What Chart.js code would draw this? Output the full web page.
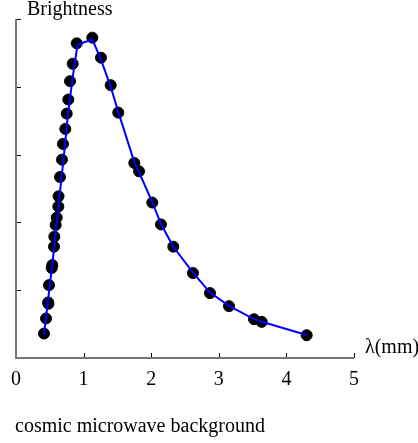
<!DOCTYPE html>
<html>
<head>
<meta charset="utf-8">
<script src="https://cdn.jsdelivr.net/npm/chart.js@4/dist/chart.umd.min.js"></script>
<style>
html,body{margin:0;padding:0;background:#fff;}
#wrap{position:relative;width:418px;height:443px;}
canvas{display:block;}
</style>
</head>
<body>
<div id="wrap"><canvas id="c" width="418" height="443"></canvas></div>
<script>
// Measured data (wavelength in mm, brightness in arbitrary units)
const dataX = [0.414,0.444,0.476,0.480,0.488,0.528,0.537,0.562,0.567,0.587,0.602,0.626,0.629,0.651,0.680,0.695,0.729,0.750,0.774,0.799,0.839,0.898,1.129,1.257,1.401,1.513,1.750,1.820,2.016,2.145,2.327,2.618,2.870,3.151,3.521,3.635,4.300];
const dataY = [0.361,0.583,0.820,0.800,1.075,1.327,1.371,1.642,1.790,1.963,2.071,2.234,2.385,2.669,2.925,3.157,3.379,3.605,3.812,4.083,4.340,4.641,4.725,4.429,4.024,3.620,2.876,2.754,2.293,1.970,1.642,1.253,0.957,0.765,0.572,0.533,0.336];
// Fitted curve
const fitX = [0.414,0.480,0.550,0.630,0.700,0.770,0.840,0.910,1.129,1.257,1.401,1.513,1.750,1.820,2.016,2.145,2.327,2.618,2.870,3.151,3.521,3.635,4.300];
const fitY = [0.350,0.900,1.500,2.260,2.900,3.600,4.150,4.620,4.700,4.400,4.000,3.630,2.890,2.740,2.300,1.975,1.640,1.260,0.965,0.770,0.575,0.535,0.340];
const xTicks = [0,1,2,3,4,5];
const yTicks = [0,1,2,3,4,5];

const pts = dataX.map((x,i)=>({x:x,y:dataY[i]}));
const fit = fitX.map((x,i)=>({x:x,y:fitY[i]}));

const SERIF = "'Liberation Serif','DejaVu Serif',serif";

const decor = {
  id:'decor',
  afterDraw(chart){
    const ctx = chart.ctx;
    const xs = chart.scales.x, ys = chart.scales.y;
    const L = xs.left, B = ys.bottom, T = ys.top, R = xs.right;
    ctx.save();
    // inward ticks
    ctx.strokeStyle = '#000';
    ctx.lineWidth = 1;
    ctx.beginPath();
    xTicks.forEach(v=>{
      if (v===0) return;
      const px = Math.round(xs.getPixelForValue(v))+0.5;
      ctx.moveTo(px,B); ctx.lineTo(px,B-5);
    });
    yTicks.forEach(v=>{
      if (v===0) return;
      const py = Math.round(ys.getPixelForValue(v))+0.5;
      ctx.moveTo(L,py); ctx.lineTo(L+5,py);
    });
    ctx.stroke();
    // axes
    ctx.strokeStyle = '#777';
    ctx.lineWidth = 2;
    ctx.beginPath();
    ctx.moveTo(L,T); ctx.lineTo(L,B); ctx.lineTo(R,B);
    ctx.stroke();
    // labels
    ctx.fillStyle = '#000';
    ctx.font = '20px ' + SERIF;
    ctx.textBaseline = 'alphabetic';
    ctx.textAlign = 'left';
    ctx.fillText('Brightness', L+11, T-4);
    ctx.fillText('λ(mm)', R+11, B-5);
    ctx.fillText('cosmic microwave background', L-1, B+74);
    ctx.restore();
  }
};

new Chart(document.getElementById('c'), {
  type:'scatter',
  data:{
    datasets:[
      {type:'line', data:fit, borderColor:'#0000ff', borderWidth:2, pointRadius:0, tension:0, fill:false, order:0},
      {type:'scatter', data:pts, backgroundColor:'#000', borderColor:'#000', pointRadius:5.5, pointHoverRadius:5.5, order:1}
    ]
  },
  options:{
    responsive:false,
    animation:false,
    events:[],
    layout:{padding:{left:16,top:19,right:64,bottom:55}},
    plugins:{legend:{display:false},tooltip:{enabled:false}},
    scales:{
      x:{
        type:'linear', min:0, max:5,
        afterFit(s){ s.height = 30; },
        afterBuildTicks(s){ s.ticks = xTicks.map(v=>({value:v})); },
        grid:{display:false, drawTicks:false},
        border:{display:false},
        ticks:{color:'#000', font:{family:SERIF,size:20}, padding:10, maxRotation:0}
      },
      y:{
        type:'linear', min:0, max:5,
        afterFit(s){ s.width = 0; },
        afterBuildTicks(s){ s.ticks = yTicks.map(v=>({value:v})); },
        grid:{display:false, drawTicks:false},
        border:{display:false},
        ticks:{display:false}
      }
    }
  },
  plugins:[decor]
});
</script>
</body>
</html>
